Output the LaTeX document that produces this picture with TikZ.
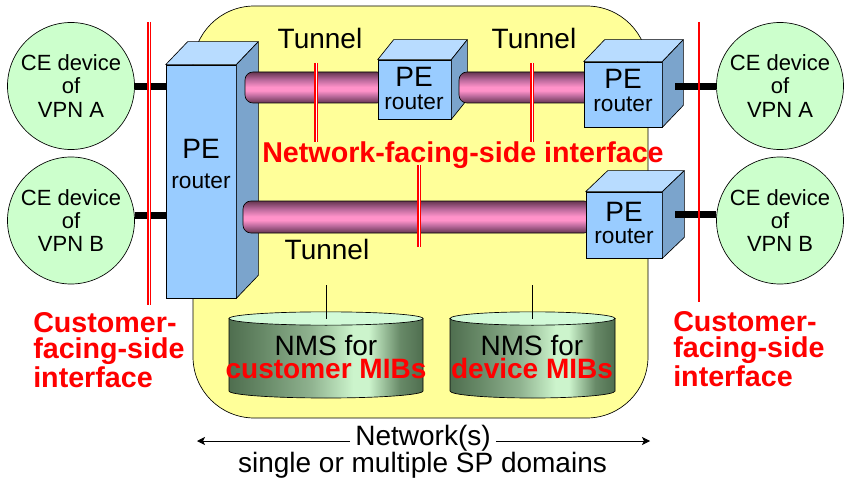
\documentclass[tikz,border=0pt]{standalone}
\usepackage{fontspec}
\setmainfont{Liberation Sans}
\usetikzlibrary{arrows.meta}
\definecolor{yel}{HTML}{FFFF99}
\definecolor{cegreen}{HTML}{CCFFCC}
\definecolor{pefrontc}{HTML}{99CCFF}
\definecolor{petopc}{HTML}{B8DCFF}
\definecolor{pesidec}{HTML}{7BA4CC}
\definecolor{tdark}{HTML}{653550}
\definecolor{tmid}{HTML}{B8689A}
\definecolor{tpink}{HTML}{FF92C9}
\definecolor{cdark}{HTML}{4F6E4F}
\definecolor{cdm}{HTML}{688A68}
\definecolor{cmid}{HTML}{8FB28F}
\definecolor{clight}{HTML}{CCF4CC}
\definecolor{ctop}{HTML}{D2FAD8}
\pgfdeclareverticalshading{tunnelshade}{100bp}{color(0bp)=(tdark); color(25bp)=(tdark); color(36bp)=(tmid); color(45bp)=(tpink); color(51bp)=(tpink); color(63bp)=(tmid); color(75bp)=(tdark); color(100bp)=(tdark)}
\pgfdeclarehorizontalshading{cylshade}{100bp}{color(0bp)=(cdark); color(25bp)=(cdark); color(34bp)=(cdm); color(46bp)=(cmid); color(57bp)=(clight); color(61bp)=(clight); color(69bp)=(cdm); color(75bp)=(cdark); color(100bp)=(cdark)}
\newcommand\pecube[7]{%
  \node[pebox, minimum width=#4*0.75pt, minimum height=#5*0.75pt] (#1) at (#2,#3) {};
  \filldraw[fill=petopc, line width=0.5pt, line join=round] (#1.north west) -- ++(#6,-#7) -- ([shift={(#6,-#7)}]#1.north east) -- (#1.north east) -- cycle;
  \filldraw[fill=pesidec, line width=0.5pt, line join=round] (#1.north east) -- ++(#6,-#7) -- ([shift={(#6,-#7)}]#1.south east) -- (#1.south east) -- cycle;
}
\begin{document}
\begin{tikzpicture}[x=0.75pt,y=-0.75pt,
  pebox/.style={draw, fill=pefrontc, line width=0.5pt, inner sep=0pt},
  petext/.style={align=center, inner sep=0pt, font=\fontsize{17}{20}\selectfont},
  cenode/.style={circle, draw, fill=cegreen, line width=0.5pt, minimum size=95.25pt, inner sep=0pt, align=center, font=\fontsize{16.5}{17.6}\selectfont},
  bar/.style={line width=5.25pt},
  redmark/.style={draw=red, double=white, line width=0.8pt, double distance=0.7pt},
  tunnel/.style={shading=tunnelshade, draw=black, line width=0.5pt, rounded corners=6pt},
  redlbl/.style={text=red, font=\fontsize{21.5}{20}\selectfont\bfseries},
  bigtxt/.style={font=\fontsize{21}{20}\selectfont, inner sep=0pt},
  cyl/.style={shading=cylshade, draw=black, line width=0.5pt},
  tip/.style={-{Stealth[length=6pt,width=6pt,inset=1.5pt]}, line width=0.6pt}]
\useasboundingbox (0,0) rectangle (849,481);

% network domain
\node[draw, fill=yel, line width=0.5pt, rounded corners=46pt, minimum width=341.25pt, minimum height=309pt, inner sep=0pt] (domain) at (420.5,212) {};

% CE devices
\node[cenode] (ceLA) at (71,86) {CE device\\of\\VPN A};
\node[cenode] (ceLB) at (71,220.5) {CE device\\of\\VPN B};
\node[cenode] (ceRA) at (780,86) {CE device\\of\\VPN A};
\node[cenode] (ceRB) at (780,220.5) {CE device\\of\\VPN B};

% big PE router
\pecube{peL}{201}{181.5}{70}{233}{22}{23}
\node[petext] (peLt) at (201,164) {{\fontsize{21}{21}\selectfont PE}\\[2pt]router};

% tunnels
\shadedraw[tunnel] (245,72) rectangle (385,103);
\shadedraw[tunnel] (243,201) rectangle (592,233);

% middle PE router
\pecube{peM}{414.5}{89.5}{73}{59}{16}{20}
\node[petext] (peMt) at (414,88.5) {{\fontsize{21}{21}\selectfont PE}\\[-3pt]router};

\shadedraw[tunnel] (459,72) rectangle (592,103);

% right PE routers
\pecube{peRA}{623}{94.5}{78}{65}{21}{22}
\node[petext] (peRAt) at (623,90.5) {{\fontsize{21}{21}\selectfont PE}\\[-3pt]router};
\pecube{peRB}{624}{225}{76}{66}{22}{21}
\node[petext] (peRBt) at (624,223) {{\fontsize{21}{21}\selectfont PE}\\[-3pt]router};

% access links
\coordinate (bLA) at (135,87);
\coordinate (bLB) at (135,215);
\coordinate (bRA) at (675,87);
\coordinate (bRB) at (675,214);
\draw[bar] (bLA -| ceLA.east) -- (bLA -| peL.west);
\draw[bar] (bLB -| ceLB.east) -- (bLB -| peL.west);
\draw[bar] (bRA) -- (bRA -| ceRA.west);
\draw[bar] (bRB) -- (bRB -| ceRB.west);

% interface markers
\draw[redmark] (149,22) -- (149,305);
\draw[draw=red, line width=1.6pt] (699,22) -- (699,302);
\draw[redmark] (316,63) -- (316,142);
\draw[redmark] (532,63) -- (532,142);
\draw[redmark] (419,165) -- (419,247);

% tunnel labels
\node[bigtxt, anchor=base] (tun1) at (320,49) {Tunnel};
\node[bigtxt, anchor=base] (tun2) at (534,49) {Tunnel};
\node[bigtxt, anchor=base] (tun3) at (327,259) {Tunnel};

\node[redlbl, anchor=base, inner sep=0pt] (nfs) at (463,162) {Network-facing-side interface};

\node[redlbl, align=left, anchor=north west, inner sep=0pt] (cfsL) at (33,312) {Customer-\\facing-side\\interface};
\node[redlbl, align=left, anchor=north west, inner sep=0pt] (cfsR) at (673,311) {Customer-\\facing-side\\interface};

% NMS cylinders
\shadedraw[cyl] (229,318.5) -- (229,391) arc[start angle=180, end angle=360, x radius=72.75pt, y radius=5.25pt] -- (423,318.5) -- cycle;
\filldraw[fill=ctop, line width=0.5pt] (326,318.5) ellipse[x radius=72.75pt, y radius=5pt];
\coordinate (nmsLtop) at (326,318.5);
\draw[line width=0.6pt] (326,285) -- (nmsLtop);
\node[align=center, inner sep=0pt, font=\fontsize{21}{17.5}\selectfont] (nmsL) at (326,357) {NMS for\\\textcolor{red}{\bfseries customer MIBs}};

\shadedraw[cyl] (450,318.5) -- (450,391) arc[start angle=180, end angle=360, x radius=61.9pt, y radius=5.25pt] -- (615,318.5) -- cycle;
\filldraw[fill=ctop, line width=0.5pt] (532.5,318.5) ellipse[x radius=61.9pt, y radius=5pt];
\coordinate (nmsRtop) at (532.5,318.5);
\draw[line width=0.6pt] (532.5,285) -- (nmsRtop);
\node[align=center, inner sep=0pt, font=\fontsize{21}{17.5}\selectfont] (nmsR) at (532,357) {NMS for\\\textcolor{red}{\bfseries device MIBs}};

% bottom label
\node[font=\fontsize{21}{20}\selectfont, anchor=base, inner ysep=0pt, inner xsep=3.75pt] (net1) at (423,445) {Network(s)};
\node[font=\fontsize{21}{20}\selectfont, anchor=base, inner sep=0pt] (net2) at (422.5,472) {single or multiple SP domains};
\coordinate (aL) at (197,441);
\coordinate (aR) at (650,441);
\draw[tip] (net1.west |- aL) -- (aL);
\draw[tip] (net1.east |- aR) -- (aR);
\end{tikzpicture}
\end{document}
